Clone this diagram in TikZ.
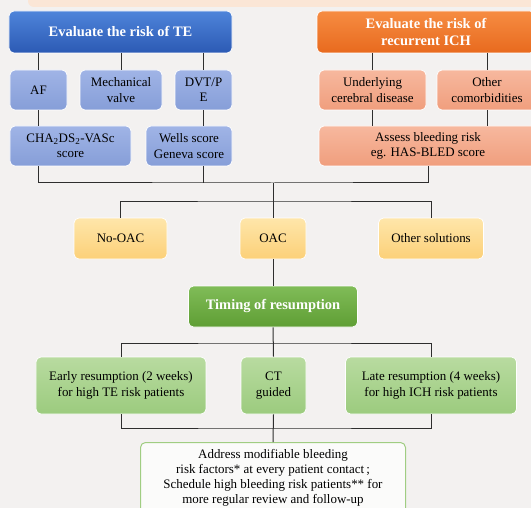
\documentclass[tikz,border=0pt]{standalone}
\usepackage{fontspec}
\setmainfont{Liberation Serif}
\definecolor{bgc}{HTML}{F3F1F0}
\definecolor{peach}{HTML}{FBE6D6}
\definecolor{lnc}{HTML}{2E2E2E}
\begin{document}
\begin{tikzpicture}[x=1bp,y=-1bp,
  base/.style={rounded corners=5bp, align=center, inner sep=0pt, draw=white, line width=0.7bp,
    font=\fontsize{13}{15.5}\selectfont, text=black},
  hdr/.style={base, font=\bfseries\fontsize{14.5}{17}\selectfont, text=white},
  bluehdr/.style={hdr, top color={rgb,255:red,78;green,132;blue,218}, bottom color={rgb,255:red,44;green,90;blue,180}},
  orghdr/.style={hdr, top color={rgb,255:red,246;green,140;blue,66}, bottom color={rgb,255:red,232;green,106;blue,30}},
  bluebox/.style={base, top color={rgb,255:red,160;green,180;blue,230}, bottom color={rgb,255:red,134;green,158;blue,216}},
  salbox/.style={base, top color={rgb,255:red,247;green,184;blue,158}, bottom color={rgb,255:red,240;green,158;blue,125}},
  yelbox/.style={base, top color={rgb,255:red,254;green,230;blue,170}, bottom color={rgb,255:red,252;green,208;blue,120}},
  grnhdr/.style={hdr, top color={rgb,255:red,128;green,188;blue,88}, bottom color={rgb,255:red,95;green,158;blue,52}},
  lgbox/.style={base, top color={rgb,255:red,184;green,219;blue,160}, bottom color={rgb,255:red,156;green,203;blue,126}},
  finbox/.style={base, draw={rgb,255:red,160;green,205;blue,130}, line width=1bp, fill=white!70!bgc},
  conn/.style={draw=lnc, line width=1bp}
]
\useasboundingbox (0,0) rectangle (531,508);
\clip (0,0) rectangle (531,508);
\fill[bgc] (0,0) rectangle (531,508);
\fill[peach, rounded corners=6bp] (28,-10) rectangle (545,7);

% top row headers
\node[bluehdr, minimum width=223bp, minimum height=42bp] (te) at (120.5,32) {Evaluate the risk of TE};
\node[orghdr, minimum width=218bp, minimum height=42bp] (ich) at (426,32) {Evaluate the risk of\\recurrent ICH};

% second row
\node[bluebox, minimum width=57bp, minimum height=40bp] (af) at (38.5,90) {AF};
\node[bluebox, minimum width=82bp, minimum height=40bp] (mech) at (121,90) {Mechanical\\valve};
\node[bluebox, minimum width=57bp, minimum height=40bp] (dvt) at (203.5,90) {DVT/P\\E};
\node[salbox, minimum width=107bp, minimum height=40bp] (under) at (372.5,90) {Underlying\\cerebral disease};
\node[salbox, minimum width=100bp, minimum height=40bp] (other) at (487,90) {Other\\comorbidities};

% third row
\node[bluebox, minimum width=121bp, minimum height=40bp] (cha) at (70.5,146) {CHA\textsubscript{2}DS\textsubscript{2}-VASc\\score};
\node[bluebox, minimum width=86bp, minimum height=40bp] (wells) at (189,146) {Wells score\\Geneva score};
\node[salbox, minimum width=218bp, minimum height=40bp] (assess) at (428,146) {Assess bleeding risk\\eg. HAS-BLED score};

% decision row
\node[yelbox, minimum width=93bp, minimum height=41bp] (noac) at (120.5,238.5) {No-OAC};
\node[yelbox, minimum width=66bp, minimum height=41bp] (oac) at (273,238.5) {OAC};
\node[yelbox, minimum width=105bp, minimum height=41bp] (othersol) at (431,238.5) {Other solutions};

\node[grnhdr, minimum width=169bp, minimum height=41bp] (timing) at (273,306.5) {Timing of resumption};

\node[lgbox, minimum width=170bp, minimum height=57bp] (early) at (121,385.5) {Early resumption (2 weeks)\\for high TE risk patients};
\node[lgbox, minimum width=65bp, minimum height=57bp] (ct) at (273.5,385.5) {CT\\guided};
\node[lgbox, minimum width=171bp, minimum height=57bp] (late) at (431,385.5) {Late resumption (4 weeks)\\for high ICH risk patients};

\node[finbox, minimum width=265bp, minimum height=76bp, anchor=north] (final) at (273,442) {};
\node[font=\fontsize{13}{15}\selectfont, align=center, anchor=north, inner sep=0pt] (fintext) at (273,449.5)
  {Address modifiable bleeding\\risk factors* at every patient contact\,;\\Schedule high bleeding risk patients** for\\more regular review and follow-up};

% bus coordinates
\coordinate (b1) at (273,183);
\coordinate (b2) at (273,201);
\coordinate (b3) at (273,343);
\coordinate (b4) at (273,428);

% connectors
\draw[conn] (te.south -| af.north) -- (af.north);
\draw[conn] (te.south -| mech.north) -- (mech.north);
\draw[conn] (te.south -| dvt.north) -- (dvt.north);
\draw[conn] (ich.south -| under.north) -- (under.north);
\draw[conn] (ich.south -| other.north) -- (other.north);
\draw[conn] (af.south) -- (af.south |- cha.north);
\draw[conn] (dvt.south) -- (dvt.south |- wells.north);
\draw[conn] (under.south) -- (under.south |- assess.north);
\draw[conn] (other.south) -- (other.south |- assess.north);
\draw[conn] (cha.south -| af.south) |- (b1) -| (assess.south);
\draw[conn] (wells.south -| dvt.south) -- (dvt.south |- b1);
\draw[conn] (b1) -- (oac.north);
\draw[conn] (noac.north) |- (b2) -| (othersol.north);
\draw[conn] (oac.south) -- (timing.north);
\draw[conn] (timing.south) -- (ct.north);
\draw[conn] (early.north) |- (b3) -| (late.north);
\draw[conn] (ct.south) -- (final.north);
\draw[conn] (early.south) |- (b4) -| (late.south);
\end{tikzpicture}
\end{document}
